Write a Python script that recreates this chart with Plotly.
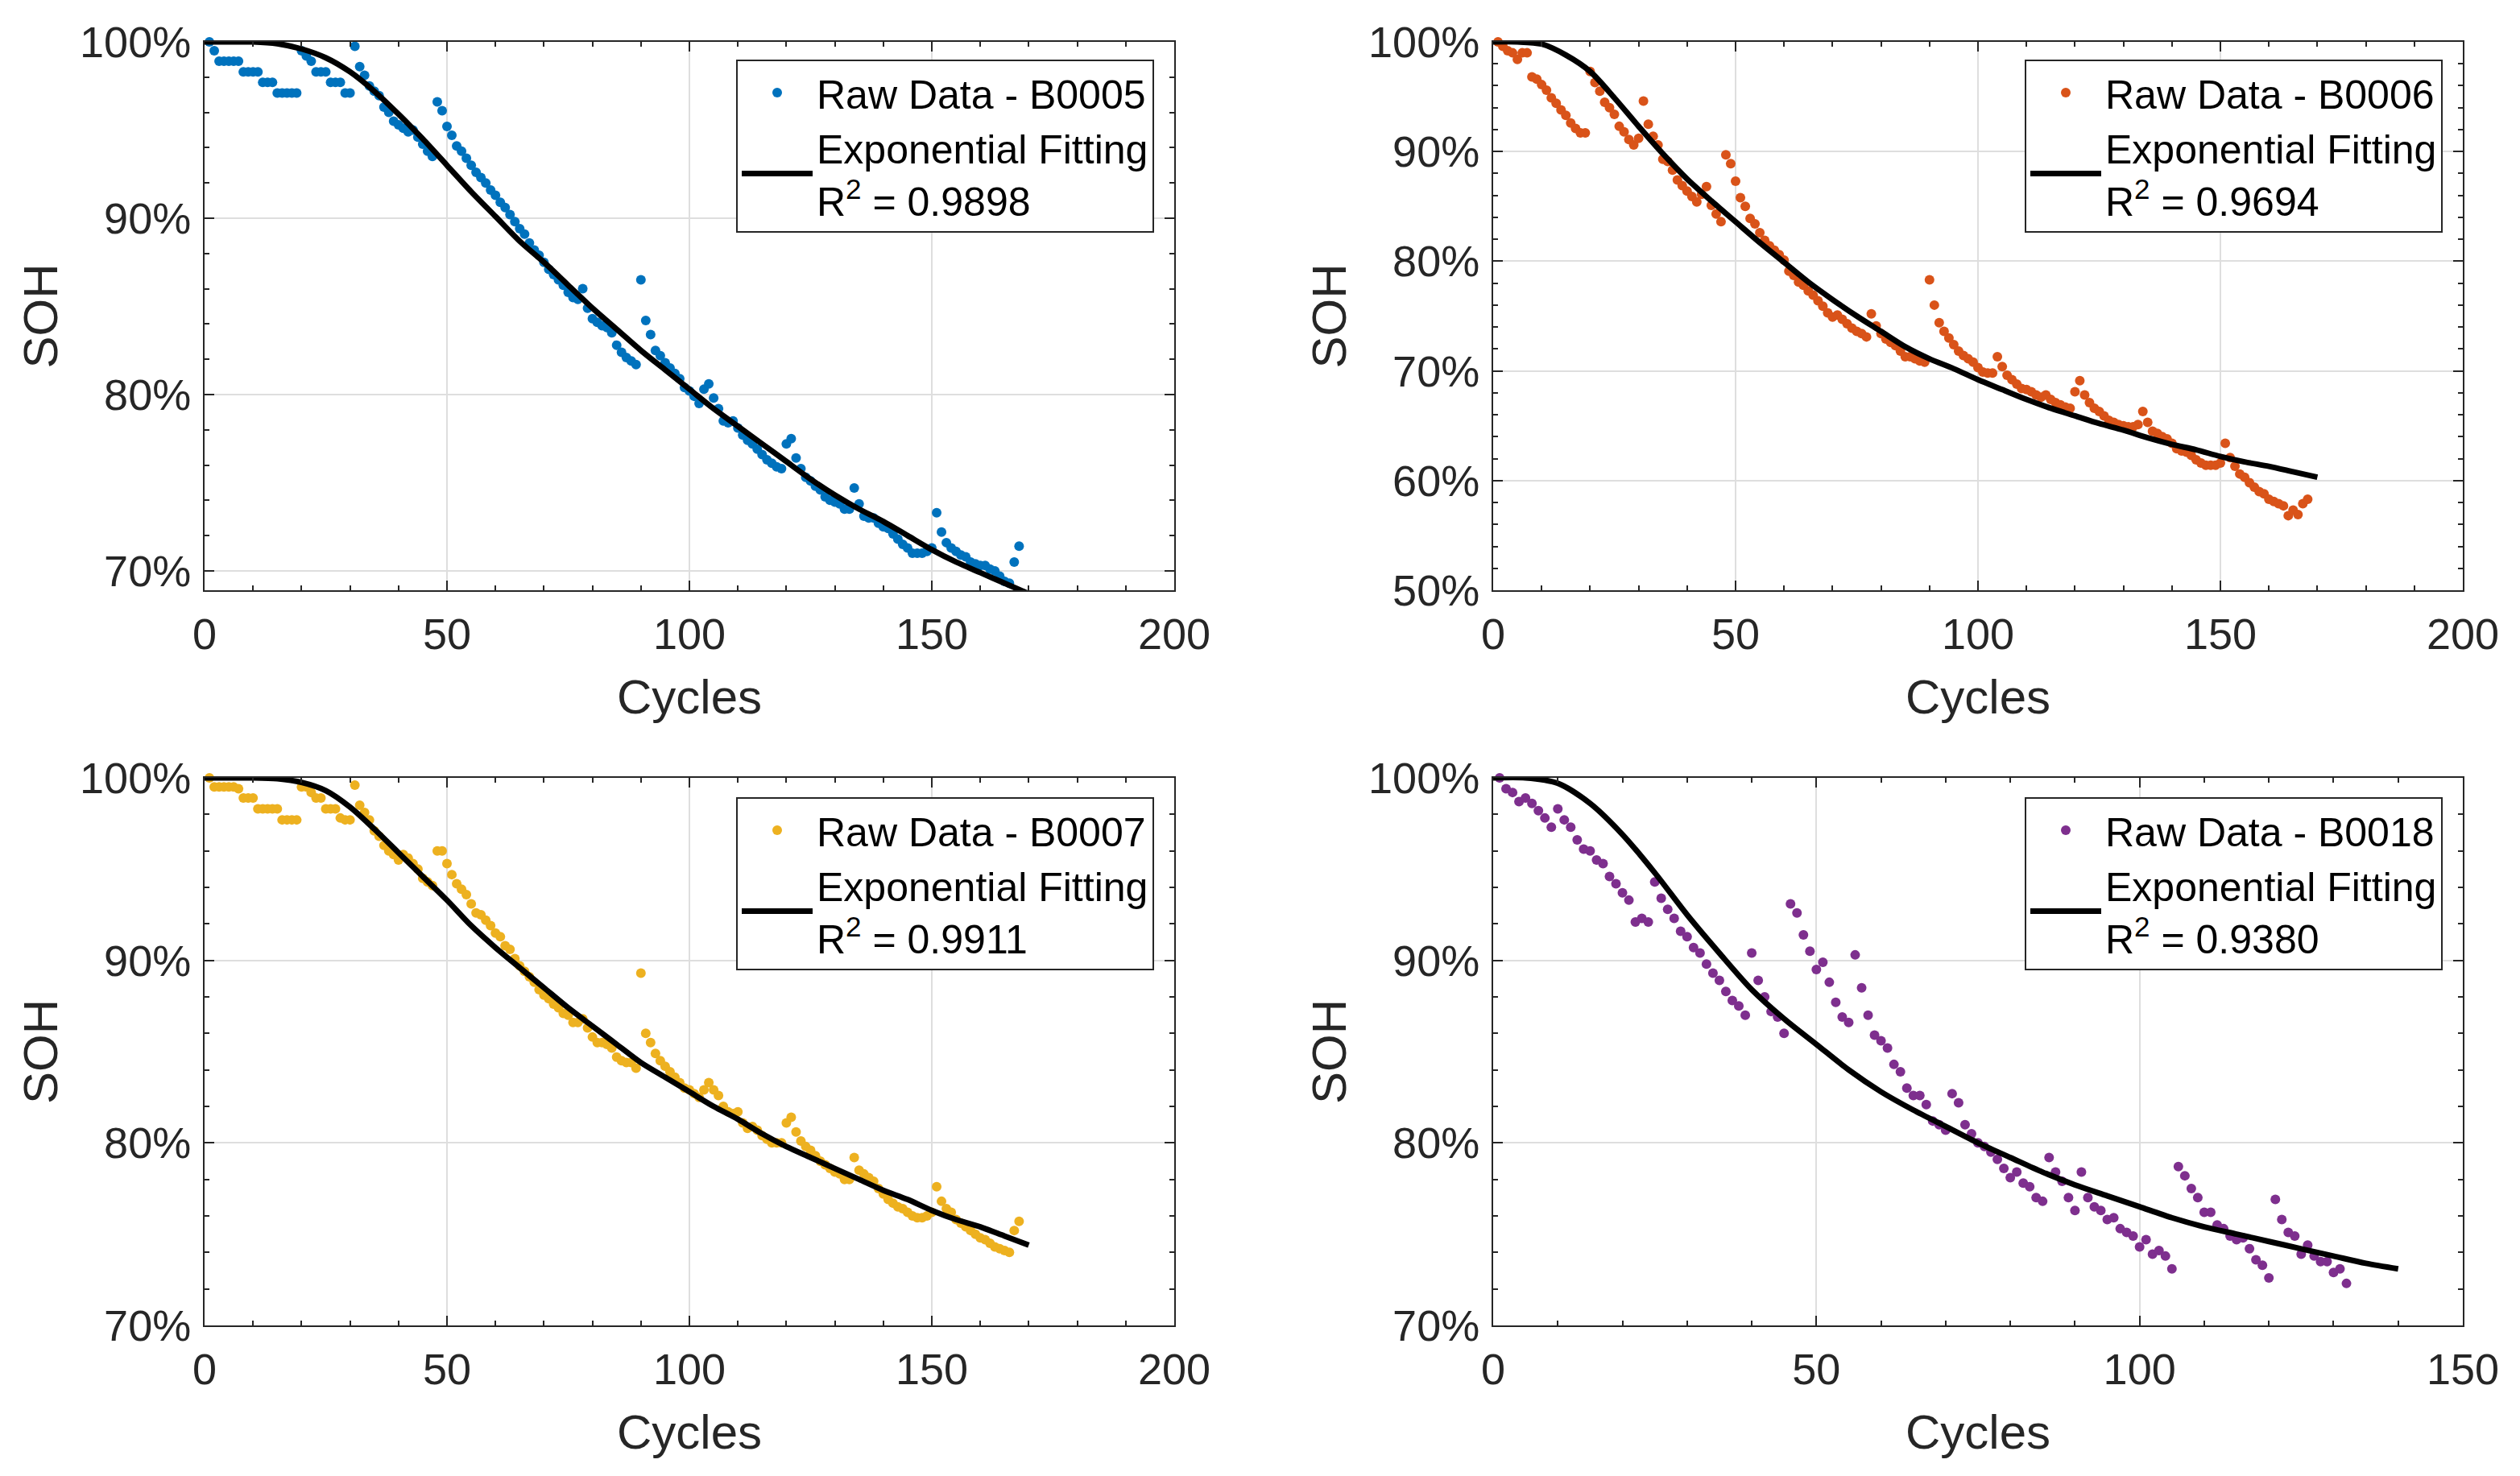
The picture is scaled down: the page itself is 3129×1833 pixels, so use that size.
import plotly.graph_objects as go

# ---------------- data ----------------
soh_b0005 = [
    100.0, 99.5, 98.9, 98.9, 98.9, 98.9, 98.9, 98.3, 98.3, 98.3,
    98.3, 97.7, 97.7, 97.7, 97.1, 97.1, 97.1, 97.1, 97.1, 99.5,
    99.2, 98.9, 98.3, 98.3, 98.3, 97.7, 97.7, 97.7, 97.1, 97.1,
    99.75, 98.6, 98.1, 97.5, 97.2, 96.95, 96.3, 96.0, 95.5, 95.3,
    95.1, 94.9, 95.0, 94.6, 94.2, 93.8, 93.5, 96.6, 96.1, 95.2,
    94.7, 94.1, 93.8, 93.4, 93.0, 92.6, 92.3, 92.0, 91.6, 91.3,
    90.9, 90.6, 90.2, 89.8, 89.4, 89.1, 88.6, 88.2, 87.9, 87.5,
    87.1, 86.8, 86.5, 86.2, 85.8, 85.5, 85.4, 86.0, 84.9, 84.3,
    84.1, 83.9, 83.8, 83.5, 82.8, 82.4, 82.1, 81.9, 81.7, 86.5,
    84.2, 83.4, 82.5, 82.2, 81.8, 81.5, 81.2, 80.9, 80.4, 80.2,
    79.9, 79.5, 80.3, 80.6, 79.8, 79.2, 78.5, 78.4, 78.5, 78.1,
    77.7, 77.4, 77.2, 76.9, 76.6, 76.3, 76.1, 75.9, 75.8, 77.2,
    77.5, 76.4, 75.8, 75.3, 75.1, 74.8, 74.6, 74.2, 74.0, 73.9,
    73.8, 73.5, 73.5, 74.7, 73.8, 73.1, 73.0, 73.0, 72.7, 72.5,
    72.4, 72.1, 71.8, 71.5, 71.3, 71.0, 71.0, 71.0, 71.1, 71.3,
    73.3, 72.2, 71.6, 71.3, 71.1, 70.9, 70.8, 70.5, 70.4, 70.3,
    70.3, 70.1, 70.0, 69.7, 69.4, 69.3, 70.5, 71.4,
]
soh_b0006 = [
    100.0, 99.6, 99.2, 99.0, 98.4, 99.0, 99.0, 96.8, 96.6, 96.1,
    95.6, 94.9, 94.4, 93.8, 93.3, 92.6, 92.1, 91.7, 91.7, 97.3,
    96.3, 95.5, 94.5, 94.0, 93.4, 92.3, 91.8, 91.1, 90.6, 91.2,
    94.6, 92.5, 91.4, 90.6, 89.3, 89.1, 88.3, 87.4, 86.9, 86.4,
    85.9, 85.4, 86.1, 86.8, 85.1, 84.3, 83.6, 89.7, 88.9, 87.3,
    85.8, 85.0, 83.9, 83.4, 82.6, 81.9, 81.4, 81.0, 80.6, 80.1,
    79.1, 78.7, 78.1, 77.8, 77.3, 76.9, 76.4, 75.9, 75.3, 74.9,
    75.1, 74.7, 74.3, 73.9, 73.6, 73.4, 73.1, 75.2, 74.1, 73.4,
    72.9, 72.6, 72.3, 71.8, 71.3, 71.3, 71.1, 70.9, 70.8, 78.3,
    76.0, 74.4, 73.6, 73.0, 72.4, 71.8, 71.4, 71.1, 70.8, 70.3,
    69.9, 69.8, 69.8, 71.3, 70.4, 69.6, 69.2, 68.8, 68.4, 68.3,
    68.1, 67.8, 67.6, 67.8, 67.4, 67.1, 66.9, 66.7, 66.6, 68.1,
    69.1, 67.8, 67.1, 66.6, 66.3, 65.9, 65.5, 65.3, 65.1, 65.0,
    64.9, 64.9, 65.1, 66.3, 65.3, 64.5, 64.3, 64.0, 63.8, 63.4,
    62.9, 62.7, 62.6, 62.3, 61.9, 61.6, 61.4, 61.4, 61.4, 61.6,
    63.4, 62.1, 61.3, 60.6, 60.3, 59.8, 59.4, 59.0, 58.8, 58.3,
    58.1, 57.9, 57.7, 56.8, 57.3, 56.9, 57.9, 58.3,
]
soh_b0007 = [
    100.0, 99.5, 99.5, 99.5, 99.5, 99.5, 99.4, 98.9, 98.9, 98.9,
    98.3, 98.3, 98.3, 98.3, 98.3, 97.7, 97.7, 97.7, 97.7, 99.5,
    99.5, 99.2, 98.9, 98.9, 98.3, 98.3, 98.3, 97.8, 97.7, 97.7,
    99.6, 98.5, 98.1, 97.7, 97.1, 96.8, 96.3, 96.0, 95.8, 95.5,
    95.8, 95.6, 95.3, 95.0, 94.5, 94.3, 94.1, 96.0, 96.0, 95.3,
    94.7, 94.2, 93.9, 93.6, 93.1, 92.6, 92.5, 92.2, 91.9, 91.5,
    91.3, 90.8, 90.6, 90.1, 89.7, 89.4, 89.1, 88.8, 88.4, 88.1,
    87.9, 87.6, 87.4, 87.1, 87.0, 86.6, 86.6, 86.8, 86.3, 85.8,
    85.5, 85.5, 85.4, 85.2, 84.7, 84.5, 84.4, 84.4, 84.1, 89.3,
    86.0, 85.5, 84.9, 84.5, 84.2, 83.9, 83.6, 83.3, 83.0, 82.9,
    82.7, 82.5, 82.9, 83.3, 82.9, 82.6, 82.0, 81.7, 81.6, 81.7,
    81.1, 80.8, 80.9, 80.7, 80.4, 80.2, 80.0, 80.0, 80.0, 81.1,
    81.4, 80.6, 80.1, 79.8, 79.6, 79.3, 79.0, 78.8, 78.6, 78.4,
    78.3, 78.0, 78.0, 79.2, 78.5, 78.3, 78.1, 77.9, 77.5, 77.2,
    76.9, 76.7, 76.5, 76.4, 76.2, 76.0, 75.9, 75.9, 76.0, 76.2,
    77.6, 76.8, 76.4, 76.2, 75.8, 75.6, 75.4, 75.2, 75.0, 74.8,
    74.7, 74.5, 74.3, 74.2, 74.1, 74.0, 75.2, 75.7,
]
soh_b0018 = [
    100.0, 99.4, 99.2, 98.7, 98.9, 98.6, 98.2, 97.8, 97.3, 98.3,
    97.7, 97.3, 96.6, 96.1, 96.0, 95.5, 95.3, 94.6, 94.2, 93.7,
    93.3, 92.1, 92.3, 92.1, 94.3, 93.4, 92.8, 92.3, 91.6, 91.3,
    90.7, 90.4, 89.8, 89.3, 88.9, 88.3, 87.8, 87.5, 87.0, 90.4,
    88.9, 88.0, 87.2, 86.9, 86.0, 93.1, 92.6, 91.4, 90.5, 89.5,
    89.9, 88.8, 87.7, 86.9, 86.6, 90.3, 88.5, 87.0, 85.9, 85.6,
    85.2, 84.3, 83.9, 83.0, 82.6, 82.6, 82.1, 81.2, 81.0, 80.7,
    82.7, 82.2, 81.0, 80.5, 80.0, 79.8, 79.5, 79.1, 78.6, 78.1,
    78.4, 77.8, 77.6, 77.0, 76.8, 79.2, 78.4, 77.9, 77.0, 76.3,
    78.4, 77.0, 76.5, 76.3, 75.8, 75.9, 75.3, 75.1, 74.9, 74.3,
    74.7, 73.9, 74.1, 73.8, 73.1, 78.7, 78.2, 77.5, 77.0, 76.2,
    76.2, 75.5, 75.3, 74.9, 74.7, 74.8, 74.2, 73.6, 73.3, 72.6,
    76.9, 75.8, 75.1, 74.9, 73.9, 74.4, 73.8, 73.5, 73.5, 72.9,
    73.1, 72.3,
]

fit_cycles_170 = [0, 5, 10, 15, 20, 25, 30, 35, 40, 45, 50, 55, 60, 65, 70, 75, 80, 85,
                  90, 95, 100, 105, 110, 115, 120, 125, 130, 135, 140, 145, 150, 155,
                  160, 165, 170]
fit_cycles_140 = [0, 5, 10, 15, 20, 25, 30, 35, 40, 45, 50, 55, 60, 65, 70, 75, 80, 85,
                  90, 95, 100, 105, 110, 115, 120, 125, 130, 135, 140]

fit_b0005 = [100.0, 100.0, 100.0, 99.9, 99.6, 99.1, 98.3, 97.2, 95.9, 94.5, 93.0, 91.5,
             90.1, 88.7, 87.5, 86.2, 84.9, 83.7, 82.5, 81.4, 80.3, 79.2, 78.2, 77.2,
             76.2, 75.2, 74.3, 73.5, 72.8, 72.0, 71.2, 70.5, 69.9, 69.3, 68.7]
fit_b0006 = [100.0, 100.0, 99.8, 98.8, 97.3, 94.9, 92.3, 89.8, 87.5, 85.5, 83.6, 81.7,
             79.9, 78.1, 76.5, 75.0, 73.6, 72.2, 71.1, 70.2, 69.2, 68.3, 67.4, 66.6,
             65.9, 65.2, 64.6, 63.9, 63.3, 62.8, 62.2, 61.7, 61.3, 60.8, 60.3]
fit_b0007 = [100.0, 100.0, 100.0, 99.95, 99.75, 99.3, 98.4, 97.2, 95.9, 94.6, 93.3, 91.9,
             90.7, 89.6, 88.5, 87.4, 86.4, 85.4, 84.4, 83.6, 82.8, 82.0, 81.3, 80.5,
             79.8, 79.2, 78.6, 78.0, 77.4, 76.9, 76.3, 75.8, 75.4, 74.9, 74.4]
fit_b0018 = [100.0, 100.0, 99.7, 98.6, 96.9, 94.8, 92.5, 90.4, 88.4, 86.8, 85.4, 84.0,
             82.8, 81.8, 80.9, 80.0, 79.2, 78.4, 77.7, 77.1, 76.5, 75.9, 75.4, 75.0,
             74.6, 74.2, 73.8, 73.4, 73.1]

batteries = ["B0005", "B0006", "B0007", "B0018"]
r_squared = ["0.9898", "0.9694", "0.9911", "0.9380"]
x_ranges = [[0, 200], [0, 200], [0, 200], [0, 150]]
y_ranges = [[68.9, 100], [50, 100], [70, 100], [70, 100]]
colors = ["#0072BD", "#D95319", "#EDB120", "#7E2F8E"]

raw_series = [soh_b0005, soh_b0006, soh_b0007, soh_b0018]
fit_x = [fit_cycles_170, fit_cycles_170, fit_cycles_170, fit_cycles_140]
fit_series = [fit_b0005, fit_b0006, fit_b0007, fit_b0018]

# ---------------- layout geometry ----------------
W, H = 3129, 1833
col_px = [(254, 1458), (1854, 3058)]
row_px = [(52, 733), (966, 1646)]
legend_px = [(1433, 74), (3033, 74), (1433, 990), (3033, 990)]

FONT = "Liberation Sans, Arial, Helvetica, sans-serif"
AX = "#262626"
GRID = "#dedede"

fig = go.Figure()
layout = dict(template="none", width=W, height=H,
              margin=dict(l=0, r=0, t=0, b=0, autoexpand=False),
              paper_bgcolor="white", plot_bgcolor="white",
              font=dict(family=FONT, color=AX), showlegend=True)

for i in range(4):
    r, c = divmod(i, 2)
    sfx = "" if i == 0 else str(i + 1)
    xa, ya = "x" + sfx, "y" + sfx
    leg = "legend" + sfx
    cycles = list(range(1, len(raw_series[i]) + 1))
    fig.add_trace(go.Scatter(
        x=cycles, y=raw_series[i], mode="markers", xaxis=xa, yaxis=ya,
        marker=dict(color=colors[i], size=12, line=dict(width=0)),
        name=f"Raw Data - {batteries[i]}", legend=leg, cliponaxis=False))
    fig.add_trace(go.Scatter(
        x=fit_x[i], y=fit_series[i], mode="lines", xaxis=xa, yaxis=ya,
        line=dict(color="black", width=7, shape="spline", smoothing=0.8),
        name=f"Exponential Fitting<br>R<sup>2</sup> = {r_squared[i]}", legend=leg))

    x0, x1 = col_px[c]
    y0, y1 = row_px[r]
    common = dict(
        automargin=False,
        showline=True, linecolor=AX, linewidth=2, mirror="ticks",
        ticks="inside", ticklen=12, tickwidth=2, tickcolor=AX,
        showgrid=True, gridcolor=GRID, gridwidth=2, zeroline=False,
        tickfont=dict(family=FONT, size=54, color=AX),
    )
    layout["xaxis" + sfx] = dict(
        common, domain=[x0 / W, x1 / W], anchor=ya, range=x_ranges[i],
        tick0=0, dtick=50, ticklabelstandoff=6,
        minor=dict(dtick=10, ticks="inside", ticklen=6, tickwidth=2,
                   tickcolor=AX, showgrid=False),
        title=dict(text="Cycles", font=dict(family=FONT, size=60, color=AX), standoff=28),
    )
    layout["yaxis" + sfx] = dict(
        common, domain=[1 - y1 / H, 1 - y0 / H], anchor=xa, range=y_ranges[i],
        tick0=0, dtick=10, ticksuffix="%", ticklabelstandoff=4,
        minor=dict(dtick=2, ticks="inside", ticklen=6, tickwidth=2,
                   tickcolor=AX, showgrid=False),
        title=dict(text="SOH", font=dict(family=FONT, size=60, color=AX), standoff=8),
    )
    lx, ly = legend_px[i]
    layout[leg] = dict(
        x=lx / W, y=1 - ly / H, xref="paper", yref="paper",
        xanchor="right", yanchor="top", bgcolor="white",
        bordercolor=AX, borderwidth=2, itemwidth=88, valign="middle",
        tracegroupgap=0, font=dict(family=FONT, size=50, color="black"),
    )

fig.update_layout(**layout)
fig.write_html(
    "out.html",
    config={"displayModeBar": False},
    post_script="document.body.style.margin='0';document.body.style.overflow='hidden';",
)
